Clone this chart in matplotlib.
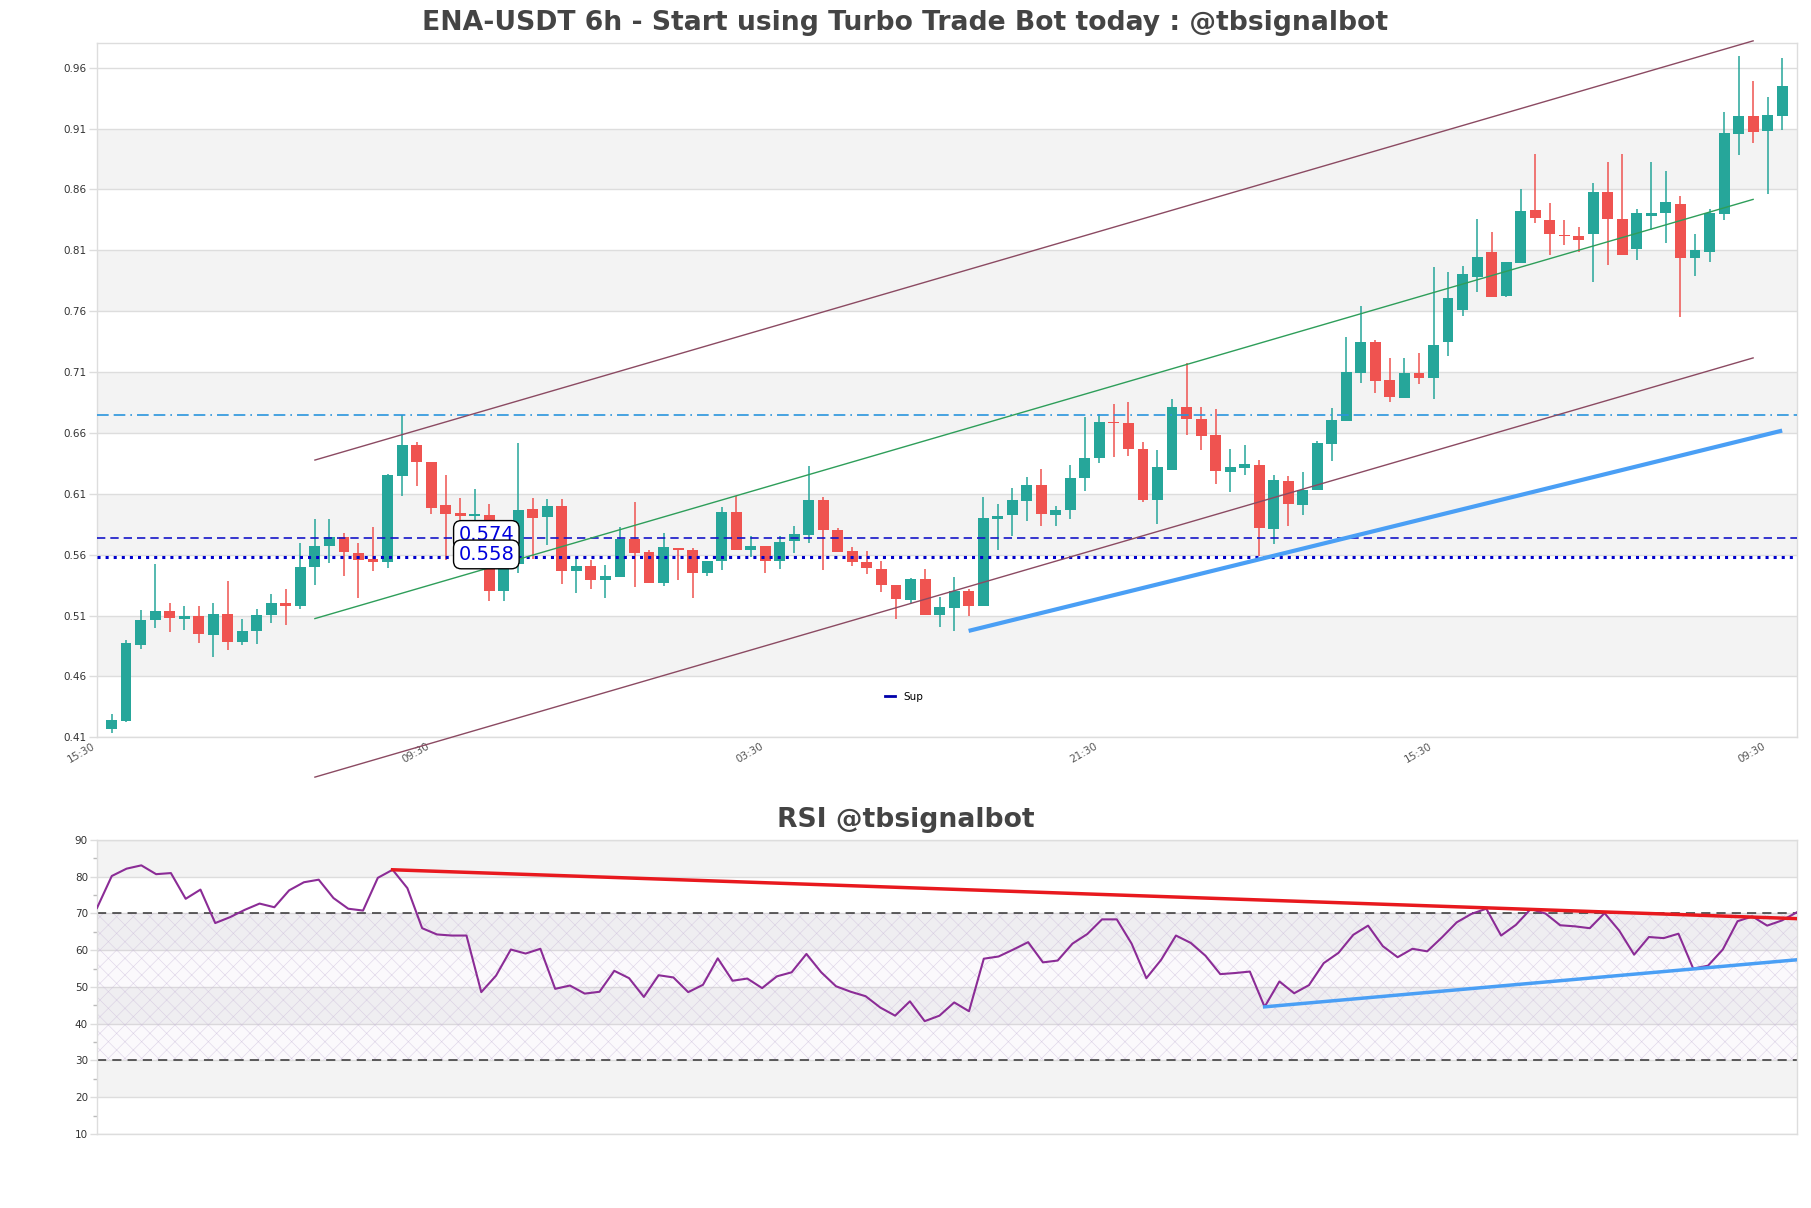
import matplotlib
matplotlib.use("Agg")
import matplotlib.pyplot as plt
from matplotlib.lines import Line2D

plt.rcParams["font.family"] = ["DejaVu Sans"]
plt.rcParams["hatch.linewidth"] = 0.4

# ---------------------------------------------------------------------
# Data
# ---------------------------------------------------------------------
opens = [
    0.4166, 0.4237, 0.4857, 0.5064, 0.5141, 0.5073, 0.5095, 0.4942, 0.5116, 0.4884,
    0.4974, 0.5108, 0.5207, 0.5179, 0.5499, 0.5671, 0.5748, 0.5616, 0.5562, 0.5540,
    0.6245, 0.6504, 0.6365, 0.6004, 0.5944, 0.5920, 0.5928, 0.5302, 0.5520, 0.5971,
    0.5909, 0.5996, 0.5466, 0.5510, 0.5395, 0.5417, 0.5725, 0.5619, 0.5367, 0.5657,
    0.5635, 0.5449, 0.5551, 0.5947, 0.5638, 0.5673, 0.5548, 0.5714, 0.5763, 0.6053,
    0.5804, 0.5632, 0.5540, 0.5486, 0.5354, 0.5231, 0.5398, 0.5102, 0.5163, 0.5299,
    0.5179, 0.5892, 0.5922, 0.6040, 0.6176, 0.5925, 0.5963, 0.6228, 0.6392, 0.6693,
    0.6682, 0.6471, 0.6045, 0.6299, 0.6816, 0.6712, 0.6586, 0.6275, 0.6310, 0.6340,
    0.5810, 0.6209, 0.6007, 0.6130, 0.6507, 0.6695, 0.7089, 0.7348, 0.7037, 0.6884,
    0.7094, 0.7048, 0.7343, 0.7613, 0.7881, 0.8086, 0.7725, 0.7999, 0.8428, 0.8348,
    0.8220, 0.8217, 0.8236, 0.8575, 0.8357, 0.8113, 0.8384, 0.8406, 0.8480, 0.8040,
    0.8089, 0.8400, 0.9056, 0.9201, 0.9083, 0.9201,
]
highs = [
    0.4291, 0.4898, 0.5149, 0.5521, 0.5201, 0.5182, 0.5177, 0.5201, 0.5387, 0.5075,
    0.5157, 0.5280, 0.5321, 0.5698, 0.5890, 0.5890, 0.5780, 0.5698, 0.5830, 0.6261,
    0.6750, 0.6529, 0.6365, 0.6255, 0.6067, 0.6141, 0.6018, 0.5580, 0.6515, 0.6064,
    0.6061, 0.6056, 0.5581, 0.5559, 0.5518, 0.5826, 0.6029, 0.5641, 0.5780, 0.5657,
    0.5657, 0.5551, 0.5990, 0.6084, 0.5755, 0.5673, 0.5755, 0.5832, 0.6329, 0.6072,
    0.5818, 0.5663, 0.5632, 0.5545, 0.5354, 0.5411, 0.5482, 0.5253, 0.5417, 0.5318,
    0.6070, 0.6018, 0.6149, 0.6236, 0.6305, 0.6001, 0.6338, 0.6728, 0.6755, 0.6837,
    0.6857, 0.6523, 0.6460, 0.6881, 0.7174, 0.6810, 0.6799, 0.6471, 0.6504, 0.6378,
    0.6258, 0.6245, 0.6275, 0.6537, 0.6805, 0.7389, 0.7643, 0.7362, 0.7214, 0.7214,
    0.7253, 0.7963, 0.7925, 0.7971, 0.8354, 0.8250, 0.8004, 0.8602, 0.8892, 0.8488,
    0.8348, 0.8291, 0.8652, 0.8824, 0.8892, 0.8436, 0.8824, 0.8750, 0.8545, 0.8236,
    0.8436, 0.9234, 0.9693, 0.9488, 0.9357, 0.9676,
]
lows = [
    0.4138, 0.4228, 0.4827, 0.4999, 0.4966, 0.4980, 0.4876, 0.4761, 0.4816, 0.4857,
    0.4865, 0.5040, 0.5026, 0.5155, 0.5351, 0.5532, 0.5425, 0.5248, 0.5466, 0.5491,
    0.6081, 0.6168, 0.5933, 0.5553, 0.5567, 0.5635, 0.5220, 0.5220, 0.5449, 0.5564,
    0.5682, 0.5362, 0.5288, 0.5318, 0.5247, 0.5417, 0.5335, 0.5367, 0.5340, 0.5395,
    0.5247, 0.5425, 0.5477, 0.5635, 0.5581, 0.5449, 0.5482, 0.5613, 0.5695, 0.5477,
    0.5619, 0.5510, 0.5444, 0.5294, 0.5075, 0.5204, 0.5102, 0.5007, 0.4974, 0.5094,
    0.5179, 0.5641, 0.5750, 0.5876, 0.5835, 0.5835, 0.5892, 0.6127, 0.6351, 0.6400,
    0.6414, 0.6034, 0.5854, 0.6299, 0.6581, 0.6458, 0.6182, 0.6113, 0.6255, 0.5586,
    0.5687, 0.5835, 0.5925, 0.6130, 0.6368, 0.6695, 0.7007, 0.6925, 0.6851, 0.6884,
    0.7001, 0.6878, 0.7228, 0.7561, 0.7758, 0.7720, 0.7720, 0.7993, 0.8326, 0.8064,
    0.8141, 0.8089, 0.7843, 0.7977, 0.8064, 0.8018, 0.8264, 0.8157, 0.7556, 0.7889,
    0.8007, 0.8351, 0.8884, 0.8982, 0.8559, 0.9091,
]
closes = [
    0.4242, 0.4873, 0.5067, 0.5141, 0.5081, 0.5095, 0.4950, 0.5116, 0.4884, 0.4977,
    0.5108, 0.5207, 0.5179, 0.5502, 0.5674, 0.5748, 0.5622, 0.5559, 0.5540, 0.6256,
    0.6502, 0.6359, 0.5982, 0.5933, 0.5917, 0.5925, 0.5302, 0.5531, 0.5963, 0.5900,
    0.6001, 0.5466, 0.5510, 0.5389, 0.5422, 0.5725, 0.5613, 0.5367, 0.5663, 0.5638,
    0.5449, 0.5551, 0.5947, 0.5635, 0.5673, 0.5548, 0.5706, 0.5766, 0.6053, 0.5802,
    0.5619, 0.5540, 0.5490, 0.5354, 0.5234, 0.5398, 0.5102, 0.5168, 0.5302, 0.5179,
    0.5898, 0.5917, 0.6045, 0.6176, 0.5933, 0.5969, 0.6231, 0.6398, 0.6693, 0.6680,
    0.6466, 0.6045, 0.6316, 0.6816, 0.6712, 0.6578, 0.6285, 0.6324, 0.6343, 0.5816,
    0.6214, 0.6015, 0.6135, 0.6515, 0.6709, 0.7097, 0.7348, 0.7023, 0.6892, 0.7094,
    0.7048, 0.7324, 0.7712, 0.7903, 0.8048, 0.7720, 0.8004, 0.8422, 0.8362, 0.8231,
    0.8215, 0.8187, 0.8575, 0.8359, 0.8064, 0.8406, 0.8406, 0.8493, 0.8040, 0.8100,
    0.8406, 0.9061, 0.9201, 0.9072, 0.9209, 0.9447,
]

rsi = [
    71.5, 80.2, 82.2, 83.1, 80.7, 81.0, 74.0, 76.5, 67.4, 69.0,
    71.0, 72.7, 71.7, 76.3, 78.5, 79.2, 74.2, 71.3, 70.8, 79.7,
    81.9, 76.9, 66.0, 64.3, 64.0, 64.0, 48.6, 53.1, 60.2, 59.1,
    60.4, 49.5, 50.4, 48.2, 48.7, 54.4, 52.4, 47.3, 53.2, 52.6,
    48.6, 50.6, 57.8, 51.7, 52.3, 49.7, 52.9, 54.0, 59.0, 54.0,
    50.2, 48.7, 47.5, 44.4, 42.2, 46.1, 40.7, 42.2, 45.8, 43.4,
    57.7, 58.3, 60.2, 62.2, 56.7, 57.2, 61.8, 64.4, 68.4, 68.4,
    61.8, 52.4, 57.4, 64.0, 62.0, 58.5, 53.5, 53.8, 54.2, 44.6,
    51.5, 48.3, 50.5, 56.5, 59.3, 64.2, 66.7, 61.1, 58.1, 60.4,
    59.7, 63.5, 67.6, 69.9, 71.3, 64.0, 66.9, 71.2, 70.0, 66.8,
    66.5, 66.0, 70.1, 65.3, 58.8, 63.6, 63.3, 64.5, 55.0, 55.8,
    60.2, 67.9, 69.2, 66.7, 68.1, 70.3,
]

price_ticks = [0.41, 0.46, 0.51, 0.56, 0.61, 0.66, 0.71, 0.76, 0.81, 0.86, 0.91, 0.96]
time_tick_pos = [-1, 22, 45, 68, 91, 114]
time_tick_labels = ["15:30", "09:30", "03:30", "21:30", "15:30", "09:30"]
rsi_ticks = [10, 20, 30, 40, 50, 60, 70, 80, 90]

# horizontal levels
resistance_level = 0.675
level_upper = 0.574
level_sup = 0.558

# channel: start / end candle and mid line values, half width
channel_x = [14, 113]
channel_mid = [0.5075, 0.8518]
channel_half = 0.1302

# support trendline on price
support_x = [59, 115]
support_y = [0.4974, 0.6619]

# RSI trendlines
rsi_res_x = [20, 115]
rsi_res_y = [81.9, 68.6]
rsi_sup_x = [79, 115]
rsi_sup_y = [44.6, 57.4]

UP = "#26a69a"
DOWN = "#ef5350"
BAND = "#f3f3f3"
GRID = "#dddddd"
TEXT = "#444444"

fig = plt.figure(figsize=(18.11, 12.08), dpi=100)
ax = fig.add_axes([0.05356, 0.38965, 0.93854, 0.57451])
ax2 = fig.add_axes([0.05356, 0.06126, 0.93854, 0.24338])


def style_axes(a):
    for s in a.spines.values():
        s.set_color(GRID)
        s.set_linewidth(1.0)
    a.tick_params(axis="y", colors=GRID, labelcolor="#333333", labelsize=7.5,
                  length=6, width=1, pad=1.5)
    a.set_axisbelow(True)


# ---------------------------------------------------------------------
# Price panel
# ---------------------------------------------------------------------
ax.set_xlim(-1, 116)
ax.set_ylim(0.41, 0.98)
for k in range(len(price_ticks) - 1):
    if k % 2 == 1:
        ax.axhspan(price_ticks[k], price_ticks[k + 1], color=BAND, lw=0, zorder=0)
for t in price_ticks:
    ax.axhline(t, color=GRID, lw=1, zorder=0.5)

n = len(closes)
xs = list(range(n))
for i in xs:
    o, h, l, c = opens[i], highs[i], lows[i], closes[i]
    col = UP if c >= o else DOWN
    ax.vlines(i, l, h, color=col, lw=1.1, zorder=2)
    body = max(abs(c - o), 0.0012)
    ax.bar(i, body, bottom=min(o, c), width=0.75, color=col, lw=0, zorder=3)

ax.axhline(resistance_level, color="#2a95dd", lw=1.2, dashes=(7, 3, 7, 3, 1, 3), zorder=4)
ax.axhline(level_upper, color="#1515c8", lw=1.2, dashes=(5, 3), zorder=4)
ax.axhline(level_sup, color="#0000cc", lw=2.2, ls=":", zorder=4)

chan_up = [m + channel_half for m in channel_mid]
chan_dn = [m - channel_half for m in channel_mid]
ax.plot(channel_x, chan_up, color="#8b4a62", lw=1, zorder=5, clip_on=False)
ax.plot(channel_x, chan_dn, color="#8b4a62", lw=1, zorder=5, clip_on=False)
ax.plot(channel_x, channel_mid, color="#2e9e5a", lw=1, zorder=5)
ax.plot(support_x, support_y, color="#4a9ff5", lw=3, zorder=5, solid_capstyle="butt")

box = dict(boxstyle="round,pad=0.25,rounding_size=0.4", fc="white", ec="black", lw=1)
for lv in [level_upper, level_sup]:
    ax.text(25.8, lv + 0.0022, f"{lv:.3f}", color="#0000dd", fontsize=14, ha="center",
            va="center", bbox=box, zorder=7)

ax.legend(handles=[Line2D([0], [0], color="#0000aa", lw=2)], labels=["Sup"],
          loc="center", bbox_to_anchor=(0.475, 0.058), frameon=False, fontsize=7.5,
          handlelength=1.0)

ax.set_yticks(price_ticks)
ax.set_yticklabels([f"{t:.2f}" for t in price_ticks])
ax.set_xticks(time_tick_pos)
ax.set_xticklabels(time_tick_labels, rotation=30, ha="right")
style_axes(ax)
ax.tick_params(axis="x", length=0, labelsize=7.5, labelcolor="#555555", pad=3)

# ---------------------------------------------------------------------
# RSI panel
# ---------------------------------------------------------------------
ax2.set_xlim(0, n - 1)
ax2.set_ylim(10, 90)
for k in range(len(rsi_ticks) - 1):
    if k % 2 == 1:
        ax2.axhspan(rsi_ticks[k], rsi_ticks[k + 1], color=BAND, lw=0, zorder=0)
for t in rsi_ticks:
    ax2.axhline(t, color=GRID, lw=1, zorder=0.5)
ax2.fill_between([0, n - 1], 30, 70, facecolor=(0.6, 0.4, 0.75, 0.035),
                 edgecolor=(0.8, 0.74, 0.86, 0.65), hatch="xx", lw=0, zorder=1)
ax2.axhline(30, color="#333333", lw=1.1, dashes=(6, 4), zorder=2)
ax2.axhline(70, color="#333333", lw=1.1, dashes=(6, 4), zorder=2)
ax2.plot(xs, rsi, color="#8b2c96", lw=1.5, zorder=3)
ax2.plot(rsi_res_x, rsi_res_y, color="#e8191e", lw=2.5, zorder=4)
ax2.plot(rsi_sup_x, rsi_sup_y, color="#4a9ff5", lw=2.5, zorder=4)

ax2.set_yticks(rsi_ticks)
ax2.set_yticks(range(15, 90, 10), minor=True)
ax2.set_xticks([])
style_axes(ax2)
ax2.tick_params(axis="y", which="minor", colors="#bbbbbb", length=3, width=1)
ax2.tick_params(axis="y", which="major", length=5)

fig.text(0.5, 0.981, "ENA-USDT 6h - Start using Turbo Trade Bot today : @tbsignalbot",
         ha="center", va="center", fontsize=19.2, fontweight="bold", color=TEXT)
fig.text(0.5, 0.3212, "RSI @tbsignalbot", ha="center", va="center",
         fontsize=19.2, fontweight="bold", color=TEXT)

fig.savefig("out.png", dpi=100)
